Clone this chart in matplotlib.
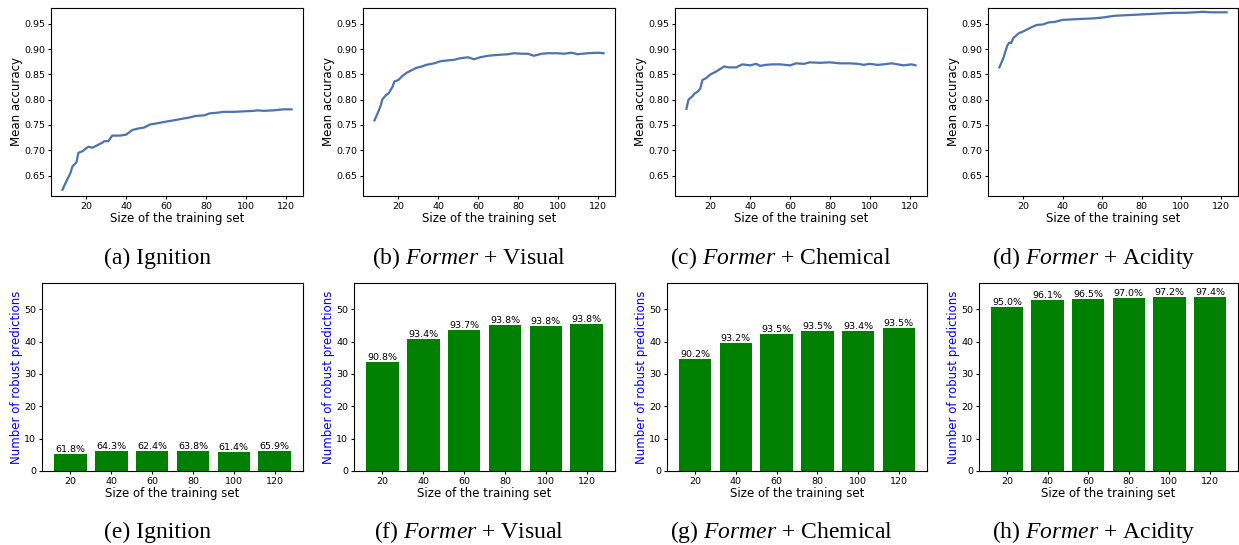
import matplotlib
matplotlib.use("Agg")
import matplotlib.pyplot as plt

plt.rcParams["mathtext.fontset"] = "custom"
plt.rcParams["mathtext.rm"] = "Liberation Serif"
plt.rcParams["mathtext.it"] = "Liberation Serif:italic"

W, H = 1239, 545

# ---- learning curves (mean accuracy vs size of training set) ----------------
ign_x = [8, 10, 12, 13, 15, 16, 18, 19, 21, 23, 25, 28, 29, 31, 33, 37, 40, 43, 46, 49,
         52, 55, 59, 62, 65, 69, 72, 75, 79, 82, 85, 89, 94, 99, 104, 106, 109, 114, 119, 123]
ign_y = [.622, .639, .655, .668, .676, .695, .698, .701, .707, .705,
         .709, .715, .718, .718, .729, .729, .731, .740, .743, .745,
         .751, .753, .756, .758, .760, .763, .765, .768, .769, .773,
         .774, .776, .776, .777, .778, .779, .778, .779, .781, .781]

vis_x = [8, 10, 11, 12, 14, 15, 17, 18, 20, 22, 24, 27, 29, 32, 34, 38, 41, 45, 48, 51,
         55, 58, 61, 65, 68, 71, 75, 78, 82, 85, 88, 92, 95, 100, 103, 107, 110, 115, 120, 123]
vis_y = [.759, .777, .787, .801, .810, .812, .825, .836, .839, .847,
         .853, .859, .863, .866, .869, .872, .876, .878, .879, .882,
         .884, .880, .884, .887, .888, .889, .890, .892, .891, .891,
         .887, .891, .892, .892, .891, .893, .890, .892, .893, .892]

chem_x = [8, 9, 11, 12, 14, 15, 16, 18, 20, 23, 25, 27, 29, 33, 34, 36, 40, 43, 45, 48,
          51, 55, 60, 63, 67, 70, 75, 80, 85, 90, 94, 97, 100, 104, 107, 111, 114, 117, 121, 123]
chem_y = [.782, .800, .807, .812, .817, .823, .839, .843, .850, .856,
          .861, .866, .864, .864, .866, .870, .868, .871, .867, .869,
          .870, .870, .868, .872, .871, .874, .873, .874, .872, .872,
          .871, .869, .871, .869, .870, .872, .870, .868, .870, .868]

acid_x = [8, 10, 11, 12, 13, 14, 15, 18, 20, 22, 24, 27, 30, 33, 36, 40, 45, 50, 56, 61,
          66, 71, 76, 81, 86, 91, 97, 102, 107, 111, 115, 120, 123]
acid_y = [.864, .882, .895, .907, .913, .912, .922, .932, .935, .939,
          .943, .948, .949, .953, .954, .958, .959, .960, .961, .963,
          .966, .967, .968, .969, .970, .971, .972, .972, .973, .974,
          .973, .973, .973]

# ---- robust predictions (bars) ----------------------------------------------
sizes = [20, 40, 60, 80, 100, 120]
ign_n = [5.1, 6.1, 6.1, 6.1, 5.8, 6.1]
ign_pct = [61.8, 64.3, 62.4, 63.8, 61.4, 65.9]
vis_n = [33.7, 40.8, 43.6, 45.1, 44.8, 45.5]
vis_pct = [90.8, 93.4, 93.7, 93.8, 93.8, 93.8]
chem_n = [34.6, 39.6, 42.4, 43.3, 43.3, 44.2]
chem_pct = [90.2, 93.2, 93.5, 93.5, 93.4, 93.5]
acid_n = [50.7, 52.9, 53.2, 53.6, 53.8, 53.8]
acid_pct = [95.0, 96.1, 96.5, 97.0, 97.2, 97.4]

captions_top = ["(a) Ignition", r"(b) $\mathit{Former}$ + Visual",
                r"(c) $\mathit{Former}$ + Chemical", r"(d) $\mathit{Former}$ + Acidity"]
captions_bot = ["(e) Ignition", r"(f) $\mathit{Former}$ + Visual",
                r"(g) $\mathit{Former}$ + Chemical", r"(h) $\mathit{Former}$ + Acidity"]

fig = plt.figure(figsize=(W / 100, H / 100), dpi=100)


def px_axes(left, top, right, bottom):
    return fig.add_axes([left / W, 1 - bottom / H, (right - left) / W, (bottom - top) / H])


LBL = 8.5
TCK = 6.8

# top row: line plots
top_boxes = [(51, 8, 303, 196), (363, 8, 615, 196), (675, 8, 927, 196), (988, 8, 1238, 196)]
curves = [(ign_x, ign_y), (vis_x, vis_y), (chem_x, chem_y), (acid_x, acid_y)]
for box, (xs, ys) in zip(top_boxes, curves):
    ax = px_axes(*box)
    ax.plot(xs, ys, color="#4c72b0", lw=1.6)
    ax.set_ylim(0.6095, 0.9815)
    ax.set_yticks([0.65, 0.70, 0.75, 0.80, 0.85, 0.90, 0.95])
    ax.set_xticks([20, 40, 60, 80, 100, 120])
    ax.set_ylabel("Mean accuracy", fontsize=LBL, labelpad=0.5)
    ax.set_xlabel("Size of the training set", fontsize=LBL, labelpad=1)
    ax.tick_params(labelsize=TCK, length=2.5, pad=1.8)

# bottom row: bar charts
bot_boxes = [(42, 283, 303, 471), (354, 283, 615, 471), (667, 283, 927, 471), (979, 283, 1238, 471)]
bars = [(ign_n, ign_pct), (vis_n, vis_pct), (chem_n, chem_pct), (acid_n, acid_pct)]
for box, (ns, pcts) in zip(bot_boxes, bars):
    ax = px_axes(*box)
    b = ax.bar(sizes, ns, width=16, color="green")
    ax.bar_label(b, labels=[f"{p:.1f}%" for p in pcts], fontsize=TCK, padding=0)
    ax.set_ylim(0, 58.1)
    ax.set_yticks([0, 10, 20, 30, 40, 50])
    ax.set_xticks(sizes)
    ax.set_ylabel("Number of robust predictions", fontsize=LBL, color="blue", labelpad=1)
    ax.set_xlabel("Size of the training set", fontsize=LBL, labelpad=1)
    ax.tick_params(labelsize=TCK, length=2.5, pad=1.8)

# sub-captions
cap_x = [157, 469, 781, 1094]
for cx, t1, t2 in zip(cap_x, captions_top, captions_bot):
    fig.text(cx / W, 1 - 258 / H, t1, ha="center", va="center",
             fontsize=17, family="Liberation Serif")
    fig.text(cx / W, 1 - 532 / H, t2, ha="center", va="center",
             fontsize=17, family="Liberation Serif")

fig.savefig("out.png", dpi=100)
